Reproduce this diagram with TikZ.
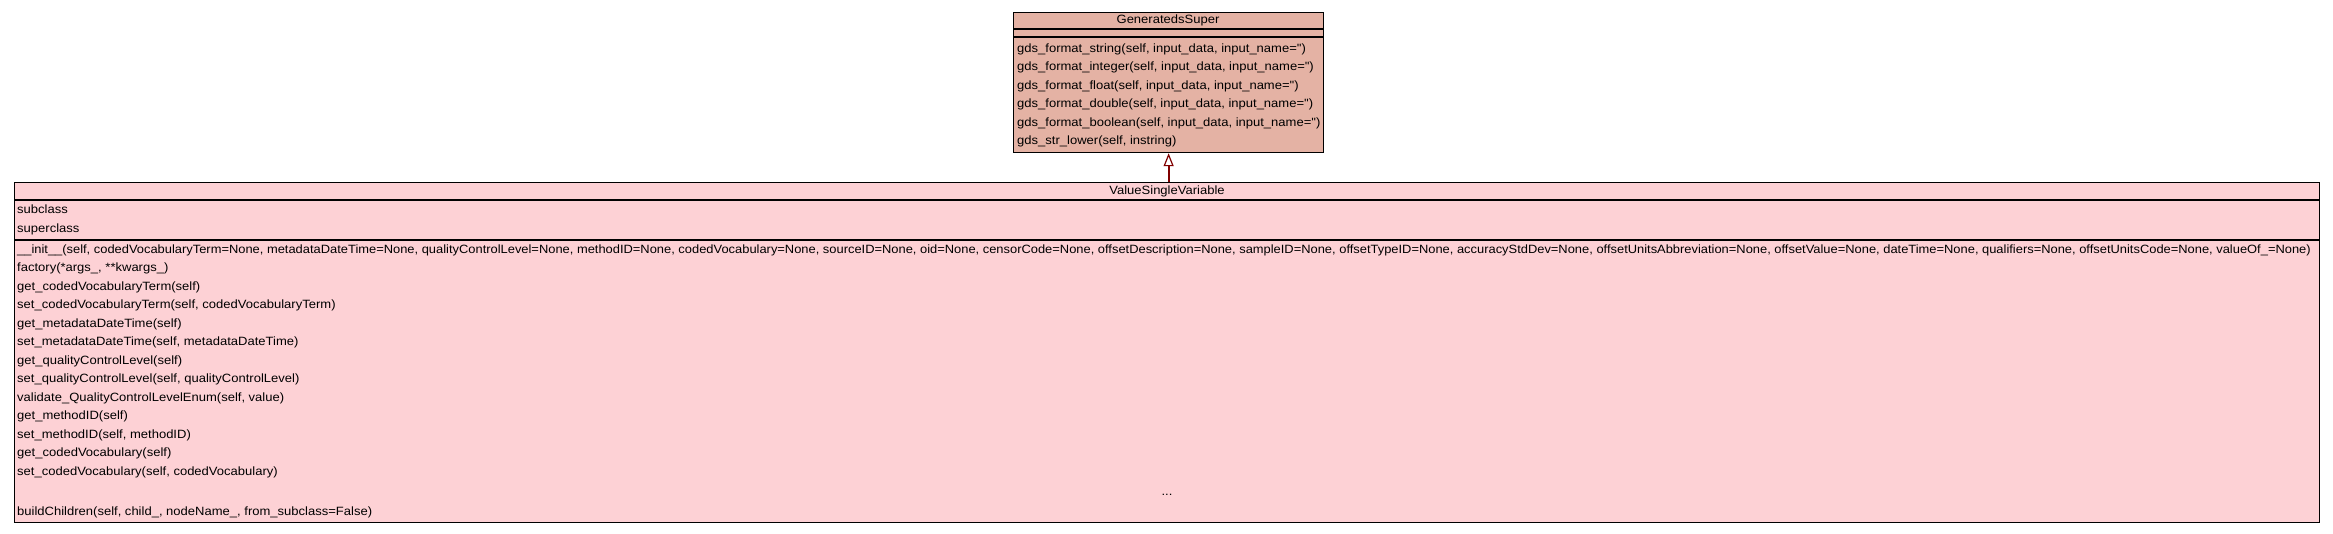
\documentclass[tikz,border=0pt]{standalone}
\usepackage{fontspec}
\setmainfont{Liberation Sans}
\newfontfamily\umlfont[FakeStretch=1.085]{Liberation Sans}
\newfontfamily\umlfontlong[FakeStretch=1.075]{Liberation Sans}
\usetikzlibrary{arrows.meta}
\definecolor{supfill}{RGB}{228,178,164}
\definecolor{clsfill}{RGB}{253,209,213}
\definecolor{inh}{RGB}{128,0,0}
\tikzset{
  umlbox/.style={draw=black, line width=1.2pt, inner sep=0pt, anchor=north west},
  sep/.style={draw=black, line width=1.6pt},
  row/.style={anchor=base west, inner sep=0pt, font=\umlfont\fontsize{12}{14}\selectfont},
  ttl/.style={anchor=base, inner sep=0pt, font=\umlfont\fontsize{12}{14}\selectfont},
  inherit/.style={draw=inh, line width=2pt, -{Triangle[open, length=13pt, width=10pt, line width=1.2pt, fill=white]}}
}
\newcommand{\qq}{\textquotesingle\textquotesingle}
\begin{document}
\begin{tikzpicture}[x=1pt, y=-1pt]
\useasboundingbox (0,0) rectangle (2333,533);
% top class
\node[umlbox, fill=supfill, minimum width=310pt, minimum height=140pt] (sup) at (1013,12) {};
\draw[sep] (1013,29) -- (1323,29);
\draw[sep] (1013,37) -- (1323,37);
\node[ttl] (supt) at (1168,23.5) {GeneratedsSuper};
\node[row] (s1) at (1017,52.5) {gds\_format\_string(self, input\_data, input\_name=\qq)};
\node[row] (s2) at (1017,70.9) {gds\_format\_integer(self, input\_data, input\_name=\qq)};
\node[row] (s3) at (1017,89.3) {gds\_format\_float(self, input\_data, input\_name=\qq)};
\node[row] (s4) at (1017,107.7) {gds\_format\_double(self, input\_data, input\_name=\qq)};
\node[row] (s5) at (1017,126.1) {gds\_format\_boolean(self, input\_data, input\_name=\qq)};
\node[row] (s6) at (1017,144.5) {gds\_str\_lower(self, instring)};
% bottom class
\node[umlbox, fill=clsfill, minimum width=2305pt, minimum height=340pt] (cls) at (14,182) {};
\draw[sep] (14,200) -- (2319,200);
\draw[sep] (14,240) -- (2319,240);
\node[ttl] (clst) at (1167,194.5) {ValueSingleVariable};
\node[row] (a1) at (17,213) {subclass};
\node[row] (a2) at (17,232) {superclass};
\node[row, font=\umlfontlong\fontsize{12}{14}\selectfont] (m1) at (17,253) {\_\_init\_\_(self, codedVocabularyTerm=None, metadataDateTime=None, qualityControlLevel=None, methodID=None, codedVocabulary=None, sourceID=None, oid=None, censorCode=None, offsetDescription=None, sampleID=None, offsetTypeID=None, accuracyStdDev=None, offsetUnitsAbbreviation=None, offsetValue=None, dateTime=None, qualifiers=None, offsetUnitsCode=None, valueOf\_=None)};
\node[row] (m2) at (17,271.5) {factory(*args\_, **kwargs\_)};
\node[row] (m3) at (17,290) {get\_codedVocabularyTerm(self)};
\node[row] (m4) at (17,308.5) {set\_codedVocabularyTerm(self, codedVocabularyTerm)};
\node[row] (m5) at (17,327) {get\_metadataDateTime(self)};
\node[row] (m6) at (17,345.5) {set\_metadataDateTime(self, metadataDateTime)};
\node[row] (m7) at (17,364) {get\_qualityControlLevel(self)};
\node[row] (m8) at (17,382.5) {set\_qualityControlLevel(self, qualityControlLevel)};
\node[row] (m9) at (17,401) {validate\_QualityControlLevelEnum(self, value)};
\node[row] (m10) at (17,419.5) {get\_methodID(self)};
\node[row] (m11) at (17,438) {set\_methodID(self, methodID)};
\node[row] (m12) at (17,456.5) {get\_codedVocabulary(self)};
\node[row] (m13) at (17,475) {set\_codedVocabulary(self, codedVocabulary)};
\node[ttl] (dots) at (1167,495) {...};
\node[row] (m14) at (17,515) {buildChildren(self, child\_, nodeName\_, from\_subclass=False)};
% inheritance
\draw[inherit] (cls.north -| sup.south) -- (sup.south);
\end{tikzpicture}
\end{document}
